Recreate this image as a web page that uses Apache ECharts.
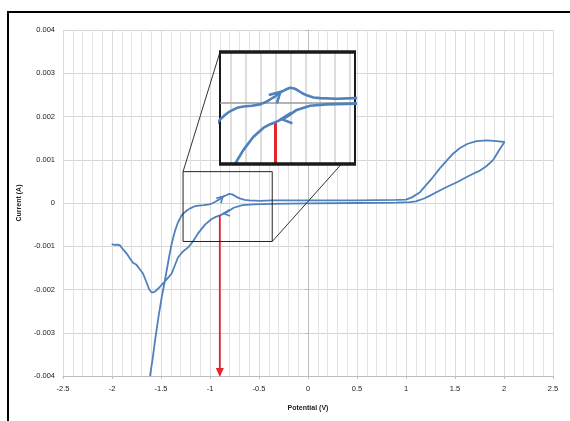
<!DOCTYPE html>
<html><head><meta charset="utf-8">
<script src="https://cdn.jsdelivr.net/npm/echarts@6/dist/echarts.min.js"></script>
<style>html,body{margin:0;padding:0;background:#fff}#c{width:570px;height:421px}</style>
</head><body><div id="c"></div>
<script>
// Cyclic voltammogram: potential (V) and current (A), in scan order
const potential = [
  -1.612,-1.585,-1.561,-1.525,-1.493,-1.465,-1.442,-1.415,-1.391,-1.357,-1.327,-1.295,-1.275,-1.240,-1.208,-1.160,-1.118,-1.060,-1.005,-0.970,
  -0.938,-0.900,-0.871,-0.835,-0.803,-0.775,-0.749,-0.720,-0.690,-0.645,-0.600,-0.488,-0.365,0.000,0.500,0.900,1.000,1.060,1.143,1.200,
  1.276,1.345,1.415,1.480,1.551,1.630,1.721,1.823,1.926,2.005,
  1.950,1.888,1.820,1.755,1.680,1.619,1.520,1.415,1.330,1.245,1.190,1.143,1.100,1.040,0.900,0.500,0.000,-0.365,-0.556,-0.668,
  -0.758,-0.825,-0.893,-0.940,-0.983,-1.051,-1.118,-1.174,-1.220,-1.276,-1.327,-1.360,-1.391,-1.440,-1.480,-1.520,-1.561,-1.595,-1.620,-1.650,
  -1.684,-1.720,-1.750,-1.786,-1.820,-1.850,-1.885,-1.918,-1.945,-1.960,-1.975,-2.003
];
const current = [
  -0.00400,-0.00360,-0.00318,-0.00262,-0.00218,-0.00185,-0.00156,-0.00122,-0.00094,-0.00064,-0.00045,-0.00031,-0.00025,-0.00018,-0.00013,-0.00008,-0.00006,-0.00005,-0.00003,0.00000,
  0.00004,0.00009,0.00014,0.00018,0.00021,0.00020,0.00017,0.00013,0.00010,0.00007,0.00006,0.00005,0.00006,0.00006,0.00006,0.00007,0.00008,0.00013,0.00025,0.00040,
  0.00060,0.00080,0.00098,0.00114,0.00127,0.00137,0.00143,0.00145,0.00143,0.00141,
  0.00122,0.00099,0.00085,0.00075,0.00067,0.00060,0.00048,0.00037,0.00027,0.00017,0.00011,0.00007,0.00004,0.00002,0.00001,0.00000,-0.00001,-0.00002,-0.00003,-0.00005,
  -0.00011,-0.00021,-0.00028,-0.00032,-0.00037,-0.00050,-0.00069,-0.00089,-0.00102,-0.00112,-0.00126,-0.00145,-0.00163,-0.00176,-0.00186,-0.00196,-0.00205,-0.00207,-0.00200,-0.00182,
  -0.00163,-0.00152,-0.00143,-0.00138,-0.00127,-0.00117,-0.00108,-0.00098,-0.00096,-0.00094,-0.00097,-0.00095
];
const xTickValues = [-2.5,-2,-1.5,-1,-0.5,0,0.5,1,1.5,2,2.5];
const xTickLabels = ['-2.5','-2','-1.5','-1','-0.5','0','0.5','1','1.5','2','2.5'];
const yTickValues = [-0.004,-0.003,-0.002,-0.001,0,0.001,0.002,0.003,0.004];
const yTickLabels = ['-0.004','-0.003','-0.002','-0.001','0','0.001','0.002','0.003','0.004'];
// zoomed window (data units)
const zoomX = [-1.275, -0.365];
const zoomY = [-0.00089, 0.000725];
// red marker
const markerX = -0.9;
const markerTop = -0.00028;
// direction arrows on the curve (tip position, heading in degrees, half-spread in degrees)
const arrowX = [-0.868, -0.862];
const arrowY = [0.00015, -0.00024];
const arrowAngle = [44, 185];
const arrowSpread = [29, 27];
// inset grid lines
const insetGridX = [-1.2,-1.1,-1.0,-0.9,-0.8,-0.7,-0.6,-0.5,-0.4];
const insetGridY = [0];

const BLUE = '#4f81bd';
const RED = '#e3262b';
const FONT = 'Liberation Sans';
const cv = potential.map((p, i) => [p, current[i]]);
const lookup = (vals, labels) => v => {
  let k = 0; for (let i = 0; i < vals.length; i++) if (Math.abs(vals[i] - v) < Math.abs(vals[k] - v)) k = i;
  return labels[k];
};
const chevronSeries = (idx, len, width, z) => ({
  type: 'custom', xAxisIndex: idx, yAxisIndex: idx, z: z, silent: true, clip: false,
  data: arrowX.map((x, i) => [x, arrowY[i], arrowAngle[i], arrowSpread[i]]),
  renderItem: (params, api) => {
    const p = api.coord([api.value(0), api.value(1)]);
    const a = api.value(2) * Math.PI / 180, s = api.value(3) * Math.PI / 180;
    const b1 = a + Math.PI - s, b2 = a + Math.PI + s;
    return {type: 'polyline', z2: 10,
      shape: {points: [[p[0] + len * Math.cos(b1), p[1] - len * Math.sin(b1)], p, [p[0] + len * Math.cos(b2), p[1] - len * Math.sin(b2)]]},
      style: {stroke: BLUE, lineWidth: width, fill: null, lineJoin: 'miter'}};
  }
});

const INSET = {left: 220, top: 52, width: 135, height: 112};

const chart = echarts.init(document.getElementById('c'), null, {renderer: 'canvas'});
chart.setOption({
  animation: false,
  backgroundColor: '#fff',
  grid: [
    {left: 63, top: 30, width: 490, height: 346, z: 1},
    {left: INSET.left, top: INSET.top, width: INSET.width, height: INSET.height, show: true,
     backgroundColor: '#fff', borderColor: '#1a1a1a', borderWidth: 2, z: 5}
  ],
  xAxis: [
    {gridIndex: 0, type: 'value', min: -2.5, max: 2.5, interval: 0.5,
     name: 'Potential (V)', nameLocation: 'middle', nameGap: 29,
     nameTextStyle: {fontFamily: FONT, fontSize: 7, fontWeight: 'bold', color: '#222'},
     axisLine: {onZero: false, lineStyle: {color: '#bdbdbd'}},
     axisTick: {show: true, length: 3, lineStyle: {color: '#bdbdbd'}},
     axisLabel: {fontFamily: FONT, fontSize: 7.5, color: '#222', margin: 9, formatter: lookup(xTickValues, xTickLabels)},
     splitLine: {show: true, lineStyle: {color: '#dcdcdc', width: 1}},
     minorTick: {show: false, splitNumber: 5},
     minorSplitLine: {show: true, lineStyle: {color: '#e2e2e2', width: 1}}},
    {gridIndex: 1, type: 'value', min: zoomX[0], max: zoomX[1], show: false}
  ],
  yAxis: [
    {gridIndex: 0, type: 'value', min: -0.004, max: 0.004, interval: 0.001,
     name: 'Current (A)', nameLocation: 'middle', nameGap: 37,
     nameTextStyle: {fontFamily: FONT, fontSize: 7, fontWeight: 'bold', color: '#222'},
     axisLine: {show: true, lineStyle: {color: '#bdbdbd'}},
     axisTick: {show: true, length: 3, lineStyle: {color: '#bdbdbd'}},
     axisLabel: {fontFamily: FONT, fontSize: 7.5, color: '#222', margin: 8, formatter: lookup(yTickValues, yTickLabels)},
     splitLine: {show: true, lineStyle: {color: '#d6d6d6', width: 1}}},
    {gridIndex: 1, type: 'value', min: zoomY[0], max: zoomY[1], show: false}
  ],
  series: [
    {type: 'line', xAxisIndex: 0, yAxisIndex: 0, data: cv, showSymbol: false, symbol: 'none', z: 3,
     lineStyle: {color: BLUE, width: 1.8}, silent: true},
    {type: 'line', xAxisIndex: 0, yAxisIndex: 0, symbol: 'none', z: 4, silent: true,
     data: [[zoomX[0], zoomY[1]], [zoomX[1], zoomY[1]], [zoomX[1], zoomY[0]], [zoomX[0], zoomY[0]], [zoomX[0], zoomY[1]]],
     lineStyle: {color: '#222', width: 1}},
    // red arrow in the main plot
    {type: 'custom', xAxisIndex: 0, yAxisIndex: 0, z: 4, silent: true, clip: false,
     data: [[markerX, markerTop, -0.004]],
     renderItem: (params, api) => {
       const t = api.coord([api.value(0), api.value(1)]);
       const b = api.coord([api.value(0), api.value(2)]);
       return {type: 'group', children: [
         {type: 'line', shape: {x1: t[0], y1: t[1], x2: b[0], y2: b[1] - 7}, style: {stroke: RED, lineWidth: 1.8}},
         {type: 'polygon', shape: {points: [[b[0] - 4, b[1] - 8], [b[0] + 4, b[1] - 8], [b[0], b[1] + 1]]}, style: {fill: RED}}
       ]};
     }},
    chevronSeries(0, 7, 1.6, 4),
    // inset
    {type: 'line', xAxisIndex: 1, yAxisIndex: 1, symbol: 'none', z: 6, silent: true,
     data: [[insetGridX[0], 0]], lineStyle: {opacity: 0},
     markLine: {silent: true, symbol: 'none', label: {show: false}, animation: false,
       data: insetGridX.map(x => ({xAxis: x, lineStyle: {color: '#d2d2d2', width: 1.5, type: 'solid'}}))
         .concat(insetGridY.map(y => ({yAxis: y, lineStyle: {color: '#9a9a9a', width: 1.5, type: 'solid'}})))}},
    {type: 'line', xAxisIndex: 1, yAxisIndex: 1, data: cv, symbol: 'none', z: 7, silent: true,
     lineStyle: {color: BLUE, width: 2.6}},
    {type: 'line', xAxisIndex: 1, yAxisIndex: 1, symbol: 'none', z: 8, silent: true,
     data: [[markerX, markerTop]], lineStyle: {opacity: 0},
     markLine: {silent: true, symbol: 'none', label: {show: false}, animation: false,
       lineStyle: {color: RED, width: 3, type: 'solid'},
       data: [[{coord: [markerX, markerTop]}, {coord: [markerX, zoomY[0]]}]]}},
    chevronSeries(1, 12, 2.6, 8)
  ]
});

// connectors from the zoom box to the inset, and outer frame
const tl = chart.convertToPixel({gridIndex: 0}, [zoomX[0], zoomY[1]]);
const br = chart.convertToPixel({gridIndex: 0}, [zoomX[1], zoomY[0]]);
chart.setOption({
  graphic: [
    {type: 'line', z: 4, shape: {x1: tl[0], y1: tl[1], x2: INSET.left, y2: INSET.top}, style: {stroke: '#333', lineWidth: 1}},
    {type: 'line', z: 4, shape: {x1: br[0], y1: br[1], x2: INSET.left + INSET.width * 0.9, y2: INSET.top + INSET.height}, style: {stroke: '#333', lineWidth: 1}},
    {type: 'line', z: 20, shape: {x1: INSET.left - 1, y1: INSET.top, x2: INSET.left + INSET.width + 1, y2: INSET.top}, style: {stroke: '#1a1a1a', lineWidth: 3.5}},
    {type: 'line', z: 20, shape: {x1: INSET.left - 1, y1: INSET.top + INSET.height, x2: INSET.left + INSET.width + 1, y2: INSET.top + INSET.height}, style: {stroke: '#1a1a1a', lineWidth: 3.5}},
    {type: 'rect', z: 20, shape: {x: 8, y: 12, width: 640, height: 460}, style: {fill: 'none', stroke: '#000', lineWidth: 2}}
  ]
});
</script>
</body></html>
